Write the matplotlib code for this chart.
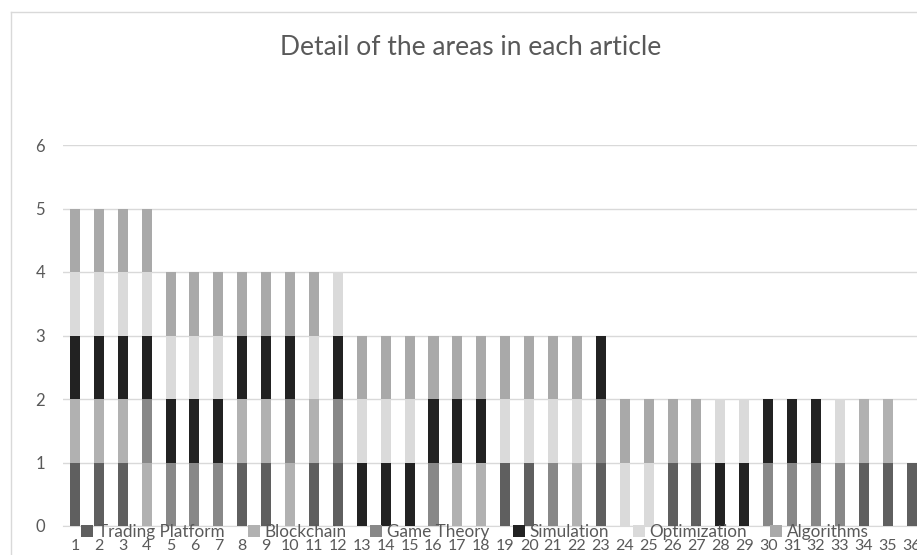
import numpy as np
import matplotlib
matplotlib.use("Agg")
import matplotlib.pyplot as plt
from matplotlib.lines import Line2D

plt.rcParams['font.family'] = ['Lato', 'DejaVu Sans']

# one bar per article, 1 = the article covers the area
articles = [str(i) for i in range(1, 37)]
trading_platform = [1, 1, 1, 0, 0, 0, 0, 1, 1, 0, 1, 1, 0, 0, 0, 0, 0, 0,
                    1, 1, 0, 0, 1, 0, 0, 1, 1, 0, 0, 0, 0, 0, 0, 1, 1, 1]
blockchain = [1, 1, 1, 1, 0, 0, 0, 1, 1, 1, 1, 0, 0, 0, 0, 0, 1, 1,
              0, 0, 0, 1, 0, 0, 0, 0, 0, 0, 0, 0, 0, 0, 0, 1, 1, 0]
game_theory = [0, 0, 0, 1, 1, 1, 1, 0, 0, 1, 0, 1, 0, 0, 0, 1, 0, 0,
               0, 0, 1, 0, 1, 0, 0, 0, 0, 0, 0, 1, 1, 1, 1, 0, 0, 0]
simulation = [1, 1, 1, 1, 1, 1, 1, 1, 1, 1, 0, 1, 1, 1, 1, 1, 1, 1,
              0, 0, 0, 0, 1, 0, 0, 0, 0, 1, 1, 1, 1, 1, 0, 0, 0, 0]
optimization = [1, 1, 1, 1, 1, 1, 1, 0, 0, 0, 1, 1, 1, 1, 1, 0, 0, 0,
                1, 1, 1, 1, 0, 1, 1, 0, 0, 1, 1, 0, 0, 0, 1, 0, 0, 0]
algorithms = [1, 1, 1, 1, 1, 1, 1, 1, 1, 1, 1, 0, 1, 1, 1, 1, 1, 1,
              1, 1, 1, 1, 0, 1, 1, 1, 1, 0, 0, 0, 0, 0, 0, 0, 0, 0]

series = [
    ("Trading Platform", trading_platform, "#5f5f5f"),
    ("Blockchain", blockchain, "#b1b1b1"),
    ("Game Theory", game_theory, "#888888"),
    ("Simulation", simulation, "#222222"),
    ("Optimization", optimization, "#dadada"),
    ("Algorithms", algorithms, "#a9a9a9"),
]

W, H = 917, 555
fig = plt.figure(figsize=(W / 100, H / 100), dpi=100)
ax = fig.add_axes([63 / W, 29 / H, 860.5 / W, 381 / H])

x = np.arange(1, len(articles) + 1)
bottom = np.zeros(len(articles))
for name, vals, col in series:
    vals = np.array(vals, dtype=float)
    ax.bar(x, vals, width=0.42, bottom=bottom, color=col, label=name, zorder=3)
    bottom += vals

ax.set_xlim(0.5, 36.5)
ax.set_ylim(0, 6)
ax.set_yticks(range(0, 7))
ax.set_xticks(x)
ax.set_xticklabels(articles)
ax.grid(axis='y', color='#d9d9d9', linewidth=1, zorder=0)
for s in ['top', 'right', 'left']:
    ax.spines[s].set_visible(False)
ax.spines['bottom'].set_color('#d9d9d9')
ax.tick_params(axis='both', length=0, colors='#595959', labelsize=12)
ax.tick_params(axis='x', labelsize=11.5, pad=9)
ax.tick_params(axis='y', pad=13)

fig.text(471 / W, 1 - 55 / H, "Detail of the areas in each article",
         ha='center', va='baseline', fontsize=19, color='#595959')

fig.legend(loc='center', bbox_to_anchor=(475 / W, 1 - 532 / H), ncol=6,
           frameon=False, fontsize=12.3, labelcolor='#595959',
           handlelength=0.7, handleheight=0.7, handletextpad=0.25,
           columnspacing=1.4, borderpad=0)

# light chart-area border (top and left edges fall inside the image)
fig.add_artist(Line2D([11 / W, 11 / W], [0, 1 - 12 / H], color='#d9d9d9',
                      linewidth=1, transform=fig.transFigure))
fig.add_artist(Line2D([11 / W, 1], [1 - 12 / H, 1 - 12 / H], color='#d9d9d9',
                      linewidth=1, transform=fig.transFigure))

fig.savefig("out.png", dpi=100)
